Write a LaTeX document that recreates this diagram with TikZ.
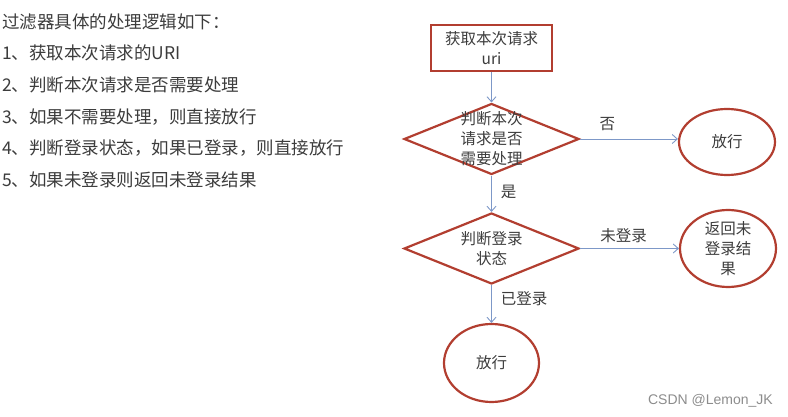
\documentclass[tikz,border=0pt]{standalone}
\usepackage{fontspec}
\setmainfont{Noto Sans CJK SC}
\newfontfamily\markfont{Liberation Sans}
\usetikzlibrary{positioning}
\usetikzlibrary{shapes}
\usetikzlibrary{arrows.meta}

\definecolor{boxred}{RGB}{178,62,48}
\definecolor{flowblue}{RGB}{125,152,200}
\definecolor{txtgray}{RGB}{60,60,60}
\definecolor{markgray}{RGB}{140,140,140}

\tikzset{
  steptext/.style={font=\fontsize{17.5}{20}\selectfont,text=txtgray,anchor=west,inner sep=0},
  stepbox/.style={draw=boxred,line width=2.2pt,minimum width=121pt,minimum height=46pt,align=center,inner sep=0},
  choice/.style={diamond,draw=boxred,line width=2.2pt,minimum width=175pt,minimum height=71pt,inner sep=0},
  endpoint/.style={ellipse,draw=boxred,line width=2.2pt,inner sep=0,align=center},
  flow/.style={draw=flowblue,line width=0.9pt,-{Straight Barb[length=5pt,width=9pt]}},
  flowlabel/.style={text=txtgray,inner sep=0}
}

\begin{document}
\begin{tikzpicture}[x=1pt,y=-1pt,on grid,
  every node/.append style={font=\fontsize{15.5}{20}\selectfont,text=txtgray}]
  \useasboundingbox (0,0) rectangle (788,417);

  % Steps on the left
  \node [steptext] (head) at (2,22) {过滤器具体的处理逻辑如下：};
  \node [steptext] (s1) at (2,53) {1、获取本次请求的URI};
  \node [steptext] (s2) at (2,85) {2、判断本次请求是否需要处理};
  \node [steptext] (s3) at (2,117) {3、如果不需要处理，则直接放行};
  \node [steptext] (s4) at (2,148) {4、判断登录状态，如果已登录，则直接放行};
  \node [steptext] (s5) at (2,180) {5、如果未登录则返回未登录结果};

  % Place nodes
  \node [stepbox] (get) at (491.5,48) {获取本次请求\\uri};
  \node [choice, below=91pt of get,
         label={[align=center]center:判断本次\\请求是否\\需要处理}] (need) {};
  \node [endpoint, minimum width=96pt, minimum height=66pt, right=235.5pt of need, yshift=-3pt] (pass1) {放行};
  \node [choice, below=109.5pt of need,
         label={[align=center]center:判断登录\\状态}] (login) {};
  \node [endpoint, minimum width=96pt, minimum height=77pt, right=236.5pt of login] (back) {返回未\\登录结\\果};
  \node [endpoint, minimum width=95pt, minimum height=78pt, below=114.5pt of login] (pass2) {放行};

  % Connectors
  \draw [flow] (get) -- (need);
  \draw [flow] (need.east) -- (need.east -| pass1.west) node [flowlabel,pos=0.28,yshift=15pt] {否};
  \draw [flow] (need) -- (login) node [flowlabel,pos=0.45,anchor=west,xshift=9pt] {是};
  \draw [flow] (login.east) -- (back.west) node [flowlabel,pos=0.44,yshift=13pt] {未登录};
  \draw [flow] (login) -- (pass2) node [flowlabel,pos=0.35,anchor=west,xshift=9pt] {已登录};

  \node [anchor=east,inner sep=0,font=\fontsize{14}{16}\markfont,text=markgray] (mark) at (773,401) {CSDN @Lemon\_JK};
\end{tikzpicture}
\end{document}
